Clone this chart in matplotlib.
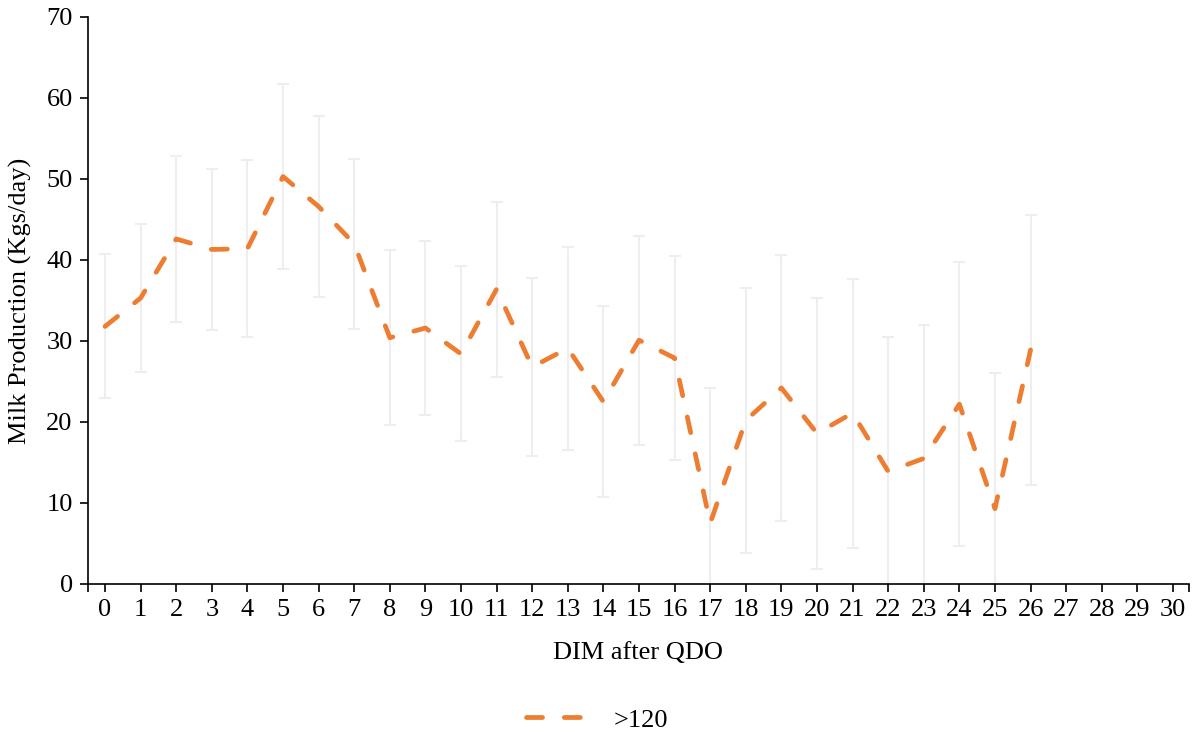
import numpy as np
import matplotlib
matplotlib.use('Agg')
import matplotlib.pyplot as plt

# DIM após QDO (dias) e produção média de leite (kg/dia) com desvio
dias = list(range(0, 27))
media = [31.8, 35.3, 42.6, 41.3, 41.4, 50.3, 46.6, 42.0, 30.4, 31.6,
         28.4, 36.4, 26.8, 29.1, 22.5, 30.1, 27.9, 7.5, 20.2, 24.2,
         18.6, 21.1, 13.9, 15.5, 22.2, 9.3, 28.9]
topo_erro = [40.7, 44.4, 52.8, 51.2, 52.3, 61.7, 57.8, 52.5, 41.2, 42.3,
             39.2, 47.2, 37.8, 41.6, 34.3, 43.0, 40.5, 24.2, 36.6, 40.6,
             35.3, 37.7, 30.5, 32.0, 39.7, 26.1, 45.6]
desvio = [t - m for t, m in zip(topo_erro, media)]

ticks_x = list(range(0, 31))
rotulo_serie = '>120'

plt.rcParams['font.family'] = ['Liberation Serif', 'DejaVu Serif']
plt.rcParams['font.size'] = 19

fig = plt.figure(figsize=(11.94, 7.32), dpi=100)
ax = fig.add_axes([0.0737, 0.2022, 0.9221, 0.7746])

# barras de erro em cinza bem claro
ax.errorbar(dias, media, yerr=desvio, fmt='none', ecolor='#EEEEEE',
            elinewidth=1.5, capsize=4.5, capthick=1.5, zorder=1)

# série principal tracejada
linha, = ax.plot(dias, media, color='#ED7D31', linewidth=3.4,
                 linestyle=(0, (3.4, 4.6)), dash_capstyle='round',
                 solid_joinstyle='round', label=rotulo_serie, zorder=2)

ax.set_xlim(-0.478, 30.45)
ax.set_ylim(0, 70)
ax.set_xticks(ticks_x)
ax.set_xticks([-0.478, 30.45], minor=True)
ax.set_yticks(np.arange(0, 71, 10))

for lado in ['top', 'right']:
    ax.spines[lado].set_visible(False)
for lado in ['left', 'bottom']:
    ax.spines[lado].set_linewidth(1.2)

ax.tick_params(axis='both', which='both', direction='out', length=6,
               width=1.2, labelsize=19)
ax.tick_params(axis='x', pad=5)
ax.tick_params(axis='y', pad=5)

ax.set_xlabel('DIM after QDO', fontsize=19, labelpad=15)
ax.set_ylabel('Milk Production (Kgs/day)', fontsize=19, labelpad=10)

fig.legend(handles=[linha], loc='lower center', bbox_to_anchor=(0.5, -0.032),
           frameon=False, fontsize=19, handlelength=2.6, handletextpad=0.7)

fig.savefig('out.png', dpi=100)
